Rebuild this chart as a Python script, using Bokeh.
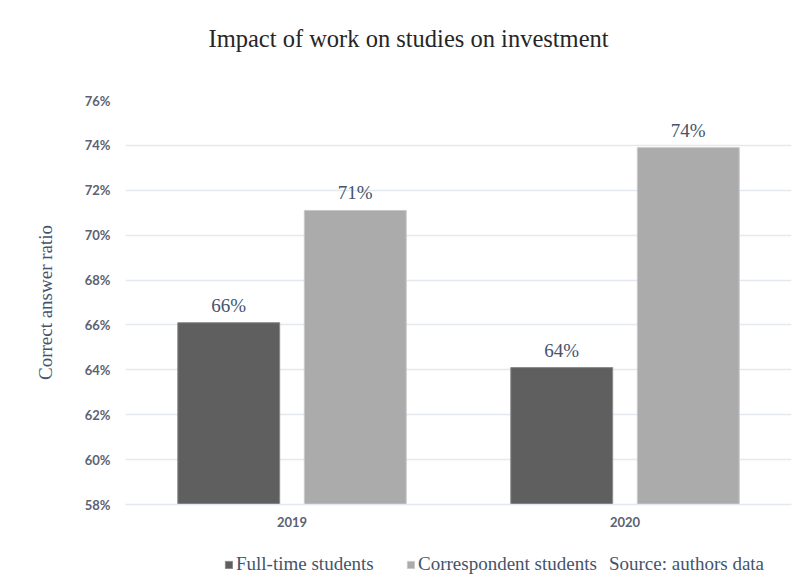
from bokeh.plotting import figure
from bokeh.layouts import column
from bokeh.models import (ColumnDataSource, FixedTicker, Legend, LegendItem, Label,
                          CustomJSTickFormatter)
from bokeh.core.properties import value
from bokeh.embed import file_html
from bokeh.resources import INLINE

# ---- data ----
years = ["2019", "2020"]
series_names = ["Full-time students", "Correspondent students"]
full_time = [66.1, 64.1]
correspondent = [71.1, 73.9]
y_ticks = [58, 60, 62, 64, 66, 68, 70, 72, 74, 76]
title_text = "Impact of work on studies on investment"
y_label = "Correct answer ratio"
source_note = "Source: authors data"

SERIF = "Liberation Serif"
SANS = "Lato"
LABEL_COLOR = "#44546a"
TICK_COLOR = "#5a6273"
GRID_COLOR = "#e4e8ef"
FULL_FILL, FULL_LINE = "#5f5f5f", "#8a8a8a"
CORR_FILL, CORR_LINE = "#ababab", "#c8c8c8"

# ---- title strip (its frame is aligned with the chart's frame) ----
ts = figure(width=804, height=60, output_backend="svg", toolbar_location=None,
            x_axis_type=None, y_axis_type=None, x_range=(0, 1), y_range=(0, 1),
            min_border=0)
ts.outline_line_color = None
ts.grid.visible = False
ts.add_layout(Label(x=83, y=22, x_units="screen", y_units="screen", text=title_text,
                    text_align="left", text_baseline="alphabetic", text_font=SERIF,
                    text_font_size="24.5px", text_color="#262626"))

# ---- main chart ----
p = figure(width=804, height=487, output_backend="svg", toolbar_location=None,
           x_range=(0, len(years)), y_range=(58, 76),
           min_border_left=125, min_border_right=13, min_border_top=40, min_border_bottom=43)
p.outline_line_color = None
p.background_fill_color = "white"
p.border_fill_color = "white"

centers = [i + 0.5 for i in range(len(years))]
off = 0.19
bw = 0.306
src_f = ColumnDataSource(dict(x=[c - off for c in centers], top=full_time,
                              lab=[f"{v:.0f}%" for v in full_time]))
src_c = ColumnDataSource(dict(x=[c + off for c in centers], top=correspondent,
                              lab=[f"{v:.0f}%" for v in correspondent]))

p.vbar(x="x", top="top", bottom=58, width=bw, source=src_f,
       fill_color=FULL_FILL, line_color=FULL_LINE, line_width=1)
p.vbar(x="x", top="top", bottom=58, width=bw, source=src_c,
       fill_color=CORR_FILL, line_color=CORR_LINE, line_width=1)

for s in (src_f, src_c):
    p.text(x="x", y="top", text="lab", source=s, text_align="center", text_baseline="bottom",
           y_offset=-7, text_font=value(SERIF), text_font_size="19px", text_color=LABEL_COLOR)

# axes
for ax in (p.xaxis, p.yaxis):
    ax.major_tick_out = 0
    ax.major_tick_in = 0
    ax.minor_tick_line_color = None
    ax.major_tick_line_color = None
    ax.major_label_text_font = SANS
    ax.major_label_text_font_size = "13px"
    ax.major_label_text_font_style = "bold"
    ax.major_label_text_color = TICK_COLOR

p.yaxis.ticker = FixedTicker(ticks=y_ticks)
p.yaxis.formatter = CustomJSTickFormatter(code="return tick.toFixed(0) + '%';")
p.yaxis.axis_line_color = None
p.yaxis.major_label_standoff = 15
p.yaxis.axis_label = y_label
p.yaxis.axis_label_text_font = SERIF
p.yaxis.axis_label_text_font_style = "normal"
p.yaxis.axis_label_text_font_size = "19px"
p.yaxis.axis_label_text_color = LABEL_COLOR
p.yaxis.axis_label_standoff = 26

p.xaxis.ticker = FixedTicker(ticks=centers)
p.xaxis.major_label_overrides = {c: y for c, y in zip(centers, years)}
p.xaxis.axis_line_color = GRID_COLOR
p.xaxis.axis_line_width = 1.5
p.xaxis.major_label_standoff = 12

p.xgrid.grid_line_color = None
p.ygrid.grid_line_color = GRID_COLOR
p.ygrid.grid_line_width = 1.5

# ---- legend strip below the chart ----
lg = figure(width=804, height=40, output_backend="svg", toolbar_location=None,
            x_axis_type=None, y_axis_type=None, x_range=(0, 1), y_range=(0, 1),
            min_border=0)
lg.outline_line_color = None
lg.grid.visible = False
# legend key renderers: their single point lies far outside the strip's visible range
lf = lg.vbar(x=[-50], top=[-50], bottom=-51, width=0.1, fill_color=FULL_FILL, line_color=FULL_LINE)
lc = lg.vbar(x=[-50], top=[-50], bottom=-51, width=0.1, fill_color=CORR_FILL, line_color=CORR_LINE)
ln = lg.vbar(x=[-50], top=[-50], bottom=-51, width=0.1, fill_alpha=0, line_alpha=0)
legend = Legend(items=[LegendItem(label=series_names[0], renderers=[lf]),
                       LegendItem(label=series_names[1], renderers=[lc]),
                       LegendItem(label=source_note, renderers=[ln])],
                orientation="horizontal", location=(99, 12),
                label_text_font=SERIF, label_text_font_size="19px",
                label_text_color=LABEL_COLOR, glyph_width=9, glyph_height=9,
                spacing=0, label_standoff=3, label_width=170, padding=0, margin=0,
                border_line_color=None, background_fill_alpha=0)
lg.add_layout(legend)

layout = column(ts, p, lg, spacing=0)
open("out.html", "w").write(file_html(layout, INLINE))
